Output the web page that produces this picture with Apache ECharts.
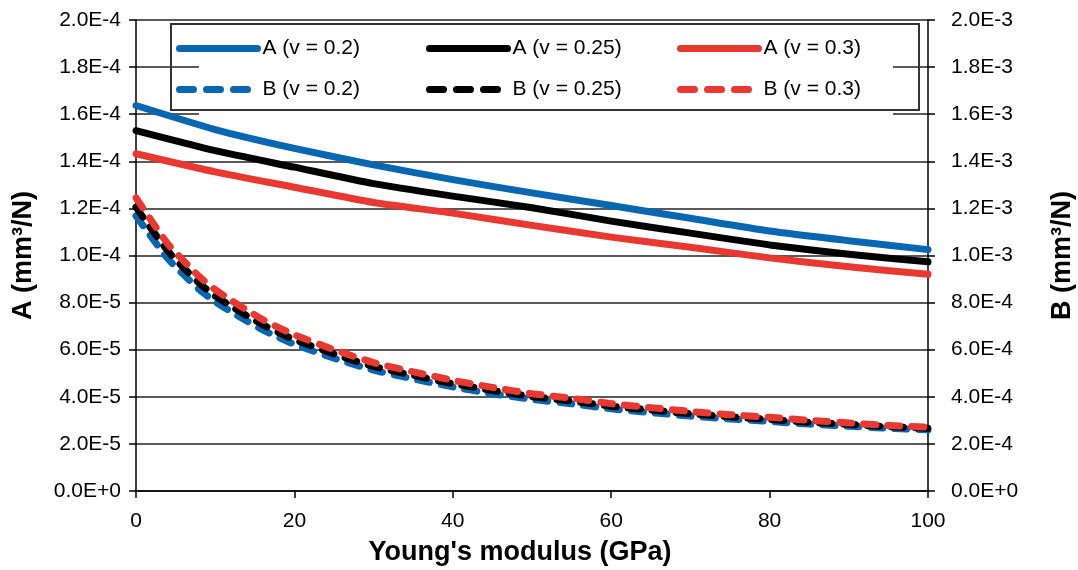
<!DOCTYPE html>
<html>
<head>
<meta charset="utf-8">
<script src="https://cdn.jsdelivr.net/npm/echarts@6/dist/echarts.min.js"></script>
<style>
  html, body { margin: 0; padding: 0; background: #fff; }
  #chart { width: 1078px; height: 570px; }
</style>
</head>
<body>
<div id="chart"></div>
<script>
// Young's modulus (GPa) sample points
const xA = [0, 10, 20, 30, 40, 50, 60, 70, 80, 90, 100];
const xB = [0, 2, 4, 6, 8, 10, 12, 14, 16, 18, 20, 25, 30, 35, 40, 45, 50, 55, 60, 65, 70, 75, 80, 85, 90, 95, 100];

// A (mm³/N), left axis
const aV020 = [1.637e-4, 1.535e-4, 1.455e-4, 1.385e-4, 1.322e-4, 1.266e-4, 1.212e-4, 1.158e-4, 1.104e-4, 1.063e-4, 1.025e-4];
const aV025 = [1.530e-4, 1.445e-4, 1.375e-4, 1.305e-4, 1.252e-4, 1.203e-4, 1.146e-4, 1.095e-4, 1.045e-4, 1.005e-4, 0.973e-4];
const aV030 = [1.432e-4, 1.355e-4, 1.290e-4, 1.225e-4, 1.180e-4, 1.128e-4, 1.078e-4, 1.035e-4, 0.990e-4, 0.952e-4, 0.920e-4];

// B (mm³/N), right axis
const bV020 = [1.168e-3, 1.076e-3, 0.987e-3, 0.919e-3, 0.855e-3, 0.804e-3, 0.761e-3, 0.722e-3, 0.684e-3, 0.652e-3, 0.623e-3, 0.564e-3, 0.513e-3, 0.476e-3, 0.442e-3, 0.413e-3, 0.389e-3, 0.370e-3, 0.349e-3, 0.333e-3, 0.318e-3, 0.306e-3, 0.295e-3, 0.284e-3, 0.275e-3, 0.266e-3, 0.260e-3];
const bV025 = [1.205e-3, 1.110e-3, 1.020e-3, 0.948e-3, 0.882e-3, 0.828e-3, 0.785e-3, 0.744e-3, 0.706e-3, 0.673e-3, 0.643e-3, 0.582e-3, 0.529e-3, 0.491e-3, 0.456e-3, 0.427e-3, 0.401e-3, 0.382e-3, 0.360e-3, 0.344e-3, 0.328e-3, 0.315e-3, 0.304e-3, 0.292e-3, 0.283e-3, 0.273e-3, 0.266e-3];
const bV030 = [1.245e-3, 1.145e-3, 1.050e-3, 0.978e-3, 0.910e-3, 0.855e-3, 0.810e-3, 0.768e-3, 0.728e-3, 0.694e-3, 0.663e-3, 0.600e-3, 0.545e-3, 0.506e-3, 0.470e-3, 0.440e-3, 0.413e-3, 0.394e-3, 0.371e-3, 0.354e-3, 0.338e-3, 0.324e-3, 0.313e-3, 0.300e-3, 0.289e-3, 0.278e-3, 0.271e-3];

const names = ['A (v = 0.2)', 'A (v = 0.25)', 'A (v = 0.3)', 'B (v = 0.2)', 'B (v = 0.25)', 'B (v = 0.3)'];
const colors = ['#0867B3', '#000000', '#E8382F'];

const FONT = 'Liberation Sans, Arial, sans-serif';
const pairs = (xs, ys) => xs.map((x, i) => [x, ys[i]]);
const sci = v => v.toExponential(1).toUpperCase();

function solid(name, color, ys) {
  return {
    name, type: 'line', yAxisIndex: 0, data: pairs(xA, ys),
    symbol: 'none', showSymbol: false, smooth: 0.2, color,
    lineStyle: { color, width: 7, cap: 'round', join: 'round' }
  };
}
function dashed(name, color, ys) {
  return {
    name, type: 'line', yAxisIndex: 1, data: pairs(xB, ys),
    symbol: 'none', showSymbol: false, smooth: 0.2, color,
    lineStyle: { color, width: 7, type: [12, 12], cap: 'round', join: 'round' }
  };
}

// one key entry; the marker dot is hidden so only the stroke sample shows
function legendAt(name, left, top, dash) {
  return {
    data: [name], left, top, padding: 0, itemGap: 0,
    itemWidth: 78, itemHeight: 14, selectedMode: false,
    itemStyle: { opacity: 0, borderWidth: 0 },
    textStyle: { fontSize: 21, color: '#000', fontFamily: FONT },
    lineStyle: dash ? { width: 7, type: [14, 13], cap: 'round' } : { width: 7, cap: 'round' }
  };
}

const axisLineStyle = { color: '#000', width: 1.5 };
const labelStyle = { fontSize: 21, color: '#000', fontFamily: FONT };
const titleStyle = { fontSize: 27, fontWeight: 'bold', color: '#000', fontFamily: FONT };

const option = {
  animation: false,
  backgroundColor: '#fff',
  textStyle: { fontFamily: FONT },
  grid: { left: 136, right: 150, top: 20, bottom: 79, containLabel: false, outerBoundsMode: 'none' },
  legend: [
    legendAt(names[0], 176, 38, false),
    legendAt(names[1], 426, 38, false),
    legendAt(names[2], 677, 38, false),
    legendAt(names[3], 176, 79, true),
    legendAt(names[4], 426, 79, true),
    legendAt(names[5], 677, 79, true)
  ],
  xAxis: {
    type: 'value', min: 0, max: 100, interval: 20,
    axisLine: { lineStyle: axisLineStyle },
    axisTick: { length: 7, lineStyle: axisLineStyle },
    axisLabel: Object.assign({ margin: 20 }, labelStyle),
    splitLine: { show: false },
    name: "Young's modulus (GPa)", nameLocation: 'middle', nameGap: 48,
    nameTextStyle: Object.assign({ padding: [0, 24, 0, 0] }, titleStyle)
  },
  yAxis: [
    {
      type: 'value', position: 'left', min: 0, max: 2e-4, interval: 2e-5,
      axisLine: { show: true, lineStyle: axisLineStyle },
      axisTick: { show: true, length: 7, lineStyle: axisLineStyle },
      axisLabel: Object.assign({ margin: 15, formatter: sci }, labelStyle),
      splitLine: { show: true, lineStyle: { color: '#222', width: 1.5 } },
      name: 'A (mm³/N)', nameLocation: 'middle', nameRotate: 90, nameGap: 99,
      nameTextStyle: titleStyle
    },
    {
      type: 'value', position: 'right', min: 0, max: 2e-3, interval: 2e-4,
      axisLine: { show: true, lineStyle: axisLineStyle },
      axisTick: { show: true, length: 7, lineStyle: axisLineStyle },
      axisLabel: Object.assign({ margin: 23, formatter: sci }, labelStyle),
      splitLine: { show: false },
      name: 'B (mm³/N)', nameLocation: 'middle', nameRotate: 90, nameGap: 121,
      nameTextStyle: titleStyle
    }
  ],
  graphic: [
    // white backing of the key box
    { type: 'rect', z: 3, silent: true, shape: { x: 199, y: 26, width: 694, height: 100 }, style: { fill: '#fff' } },
    // key box frame
    { type: 'rect', z: 3, silent: true, shape: { x: 171, y: 24, width: 748, height: 86 }, style: { fill: 'none', stroke: '#333', lineWidth: 2 } }
  ],
  series: [
    solid(names[0], colors[0], aV020),
    solid(names[1], colors[1], aV025),
    solid(names[2], colors[2], aV030),
    dashed(names[3], colors[0], bV020),
    dashed(names[4], colors[1], bV025),
    dashed(names[5], colors[2], bV030)
  ]
};

const chart = echarts.init(document.getElementById('chart'), null, { renderer: 'canvas' });
chart.setOption(option);
</script>
</body>
</html>
